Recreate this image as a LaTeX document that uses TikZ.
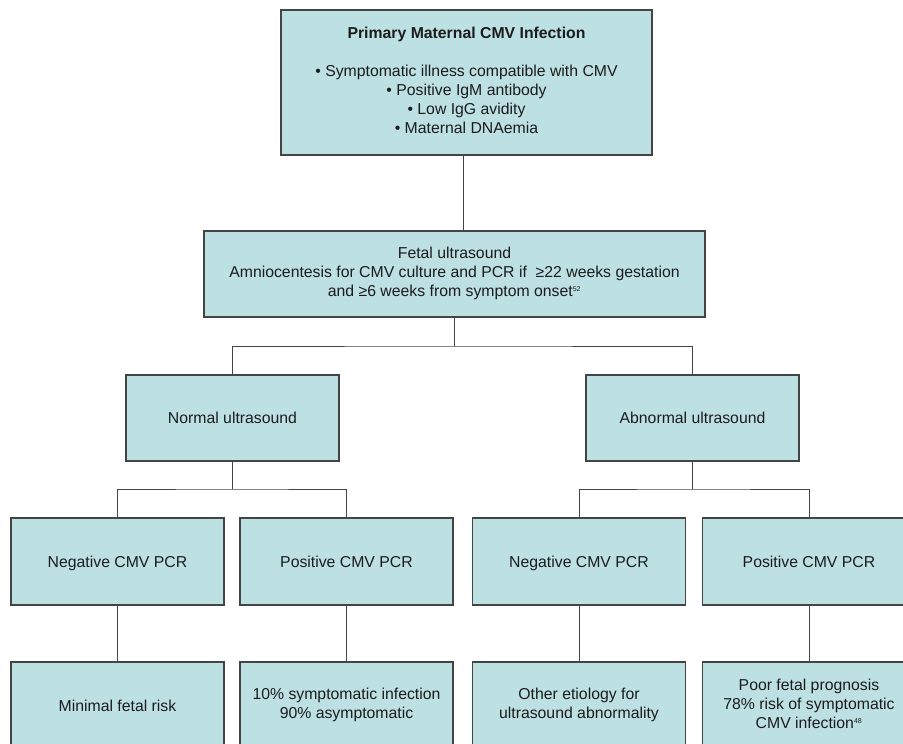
\documentclass[tikz,border=0pt]{standalone}
\usepackage{fontspec}
\setmainfont{Liberation Sans}
\usepackage{xcolor}
\usetikzlibrary{positioning,calc}

\definecolor{boxfill}{RGB}{189,224,227}
\definecolor{boxline}{RGB}{68,68,68}
\definecolor{boxtext}{RGB}{28,28,28}
\newcommand{\boxstrut}{\rule[-4pt]{0pt}{19.4pt}}

\begin{document}
\begin{tikzpicture}[x=1pt, y=-1pt, every node/.style={font=\fontsize{15.8pt}{19pt}\selectfont, text=boxtext}]

% Flow chart of CMV work-up
\tikzstyle{box}=[rectangle, draw=boxline, fill=boxfill, line width=1.2pt, minimum width=213pt, minimum height=87pt, align=center, inner sep=0pt, execute at begin node=\boxstrut, execute at end node=\boxstrut]
\tikzstyle{link}=[draw=boxline, line width=1pt]

\useasboundingbox (0,0) rectangle (903,744);

% Top level
\node[box, minimum width=371pt, minimum height=145pt] (infect) at (466.5,82.5) {\textbf{Primary Maternal CMV Infection}\\[19pt]
  • Symptomatic illness compatible with CMV\\
  • Positive IgM antibody\\
  • Low IgG avidity\\
  • Maternal DNAemia};

% Work-up
\node[box, minimum width=501pt, minimum height=86pt] (fetal) at (454.5,274) {Fetal ultrasound\\
  Amniocentesis for CMV culture and PCR if \ ≥22 weeks gestation\\
  and ≥6 weeks from symptom onset\textsuperscript{\scriptsize 52}};

% Ultrasound result
\node[box, minimum height=86pt] (normal) at (232.5,418) {Normal ultrasound};
\node[box, minimum height=86pt] (abnormal) at (692.5,418) {Abnormal ultrasound};

% PCR result
\node[box] (negA) at (117.5,561.5) {Negative CMV PCR};
\node[box] (posA) at (346.5,561.5) {Positive CMV PCR};
\node[box] (negB) at (579,561.5) {Negative CMV PCR};
\node[box] (posB) at (809,561.5) {Positive CMV PCR};

% Outcome
\node[box] (riskA) at (117.5,705.5) {Minimal fetal risk};
\node[box] (riskB) at (346.5,705.5) {10\% symptomatic infection\\90\% asymptomatic};
\node[box] (riskC) at (579,705.5) {Other etiology for\\ultrasound abnormality};
\node[box] (riskD) at (809,705.5) {Poor fetal prognosis\\78\% risk of symptomatic\\CMV infection\textsuperscript{\scriptsize 48}};

% Junctions
\coordinate (j1) at (454.5,346);
\coordinate (j2) at (232.5,489);
\coordinate (j3) at (692.5,489);

% Connectors
\draw[link] (infect.south -| 463,0) -- (fetal.north -| 463,0);
\draw[link] (fetal.south) -- (j1);
\draw[link] (normal.north) |- (j1) -| (abnormal.north);

\draw[link] (normal.south) -- (j2);
\draw[link] (negA.north) |- (j2) -| (posA.north);
\draw[link] (abnormal.south) -- (j3);
\draw[link] (negB.north) |- (j3) -| (posB.north);

\draw[link] (negA) -- (riskA);
\draw[link] (posA) -- (riskB);
\draw[link] (negB) -- (riskC);
\draw[link] (posB) -- (riskD);

\end{tikzpicture}
\end{document}
